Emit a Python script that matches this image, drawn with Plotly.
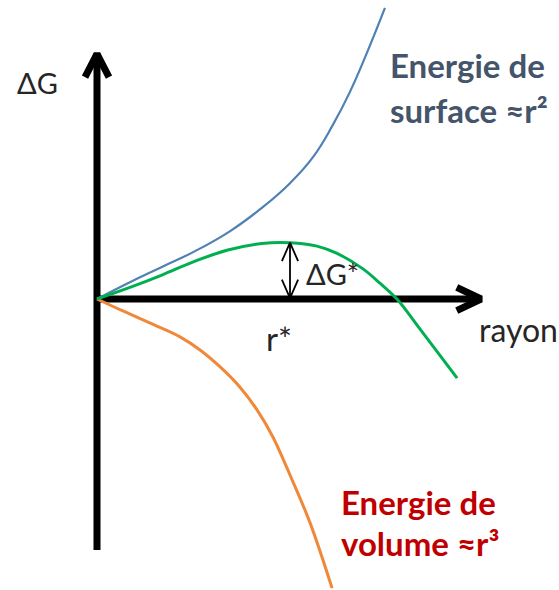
import plotly.graph_objects as go

# ---- data (r in arbitrary units, ΔG in arbitrary units) ----
r_surface = [0, 0.80, 1.68, 2.54, 3.45, 4.27, 5.00, 5.60, 6.11, 6.55, 6.99, 7.46]
g_surface = [0, 0.41, 0.83, 1.24, 1.76, 2.36, 3.00, 3.68, 4.51, 5.36, 6.37, 7.54]

r_total = [0, 0.80, 1.68, 2.54, 3.39, 4.27, 5.00, 5.70, 6.22, 6.89, 7.33, 7.77, 8.37, 9.33]
g_total = [0, 0.28, 0.62, 0.98, 1.27, 1.44, 1.46, 1.37, 1.18, 0.78, 0.41, 0.00, -0.78, -2.05]

r_volume = [0, 0.67, 1.55, 2.15, 2.67, 3.19, 3.70, 4.15, 4.56, 5.00, 5.52, 6.09]
g_volume = [0, -0.31, -0.70, -0.98, -1.32, -1.76, -2.28, -2.88, -3.58, -4.56, -5.80, -7.49]

r_star = 5.00
dg_star = 1.46

# axis extents
R_MAX = 9.97
G_MAX = 6.37
G_MIN = -6.50

fig = go.Figure()

def line(xs, ys, color, width, shape="linear", smoothing=1):
    fig.add_trace(go.Scatter(x=xs, y=ys, mode="lines", hoverinfo="skip",
                             line=dict(color=color, width=width, shape=shape,
                                       smoothing=smoothing),
                             showlegend=False))

# axes with open arrowheads
AX = "#000000"
line([0, 0], [G_MIN, G_MAX], AX, 7)
line([-0.31, 0, 0.31], [G_MAX - 0.62, G_MAX - 0.02, G_MAX - 0.62], AX, 7)
line([0, R_MAX], [0, 0], AX, 7)
line([R_MAX - 0.65, R_MAX - 0.02, R_MAX - 0.65], [0.30, 0, -0.30], AX, 7)

# curves
line(r_surface, g_surface, "#4F81B4", 2.2, "spline", 1.3)
line(r_volume, g_volume, "#F0883A", 3, "spline")
line(r_total, g_total, "#00B050", 3, "spline")

# ΔG* double arrow
line([r_star, r_star], [0.02, dg_star], "#000000", 1.8)
line([r_star - 0.21, r_star, r_star + 0.21], [dg_star - 0.48, dg_star, dg_star - 0.48], "#000000", 1.8)
line([r_star - 0.21, r_star, r_star + 0.21], [0.50, 0.02, 0.50], "#000000", 1.8)

FONT = "Lato, 'Open Sans', sans-serif"
TXT = "#262626"
ann = [
    dict(x=-1.55, y=5.60, text="ΔG", font=dict(size=29, color=TXT), xanchor="center"),
    dict(x=6.11, y=0.65, text="ΔG*", font=dict(size=29, color=TXT), xanchor="center"),
    dict(x=4.72, y=-1.01, text="r*", font=dict(size=33, color=TXT), xanchor="center"),
    dict(x=9.84, y=-0.80, text="rayon", font=dict(size=32, color=TXT), xanchor="left"),
    dict(x=7.54, y=6.06, text="<b>Energie de</b>", font=dict(size=33, color="#44546A"), xanchor="left"),
    dict(x=7.54, y=4.90, text="<b>surface ≈r²</b>", font=dict(size=33, color="#44546A"), xanchor="left"),
    dict(x=6.27, y=-5.26, text="<b>Energie de</b>", font=dict(size=33, color="#C00000"), xanchor="left"),
    dict(x=6.27, y=-6.32, text="<b>volume ≈r³</b>", font=dict(size=33, color="#C00000"), xanchor="left"),
]
for a in ann:
    fig.add_annotation(xref="x", yref="y", showarrow=False, yanchor="middle", **a)

U = 38.6
fig.update_layout(
    width=559, height=590,
    margin=dict(l=0, r=0, t=0, b=0),
    paper_bgcolor="white", plot_bgcolor="white",
    font=dict(family=FONT),
    xaxis=dict(range=[-97 / U, (559 - 97) / U], visible=False, fixedrange=True),
    yaxis=dict(range=[-(590 - 299) / U, 299 / U], visible=False, fixedrange=True),
)

fig.write_html("out.html", config={"displayModeBar": False},
               post_script="document.body.style.margin='0';")
